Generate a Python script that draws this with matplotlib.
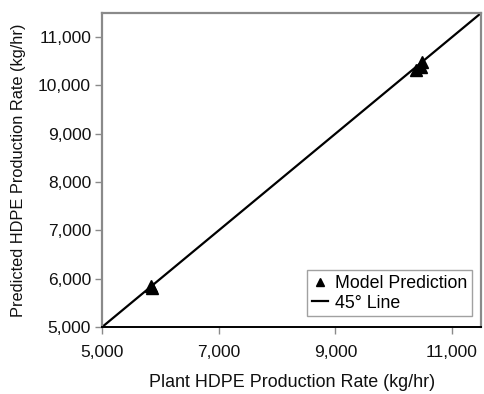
'''
Parity plot: model-predicted vs. plant HDPE production rate.
'''

import matplotlib
matplotlib.use('Agg')
import matplotlib.pyplot as plt
from matplotlib.ticker import FixedLocator, FuncFormatter, MultipleLocator

plt.rcParams['font.family'] = ['Liberation Sans', 'DejaVu Sans']

AXIS_MIN = 5000
AXIS_MAX = 11500

X_TICKS = [5000, 7000, 9000, 11000]

# plant measurements and model predictions, kg/hr
plant_rate = [5830, 5855, 10380, 10470, 10490]
predicted_rate = [5840, 5815, 10320, 10390, 10480]

# the 45 degree reference line
line_x = [AXIS_MIN, AXIS_MAX]
line_y = [AXIS_MIN, AXIS_MAX]

FIG_SIZE = [4.84, 3.94]
GREY = '#8a8a8a'


def thousands(value, pos):
    return '{:,.0f}'.format(value)


fig = plt.figure(figsize = FIG_SIZE, dpi = 100)
axes = fig.add_axes([0.211, 0.170, 0.783, 0.797])

axes.plot(plant_rate, predicted_rate, '^', color = 'black',
          markersize = 8, label = 'Model Prediction', zorder = 3)
axes.plot(line_x, line_y, '-', color = 'black', linewidth = 1.6,
          label = '45\u00b0 Line', zorder = 2)

axes.set_xlim(AXIS_MIN, AXIS_MAX)
axes.set_ylim(AXIS_MIN, AXIS_MAX)
axes.xaxis.set_major_locator(FixedLocator(X_TICKS))
axes.yaxis.set_major_locator(MultipleLocator(1000))
axes.xaxis.set_major_formatter(FuncFormatter(thousands))
axes.yaxis.set_major_formatter(FuncFormatter(thousands))

for name in ['left', 'top', 'right']:
    axes.spines[name].set_color(GREY)
    axes.spines[name].set_linewidth(1.6)
axes.spines['bottom'].set_color('black')
axes.spines['bottom'].set_linewidth(1.4)

axes.tick_params(axis = 'both', direction = 'out', length = 5, width = 1,
                 color = GREY, labelsize = 12.5, labelcolor = '#111111')
axes.tick_params(axis = 'x', pad = 8)
axes.tick_params(axis = 'y', pad = 3)

axes.set_xlabel('Plant HDPE Production Rate (kg/hr)', fontsize = 12.9,
                color = '#111111', labelpad = 10)
axes.set_ylabel('Predicted HDPE Production Rate (kg/hr)', fontsize = 11.8,
                color = '#111111', labelpad = 9)

legend = axes.legend(loc = 'lower right', bbox_to_anchor = (0.975, 0.035),
                     fontsize = 12.8, frameon = True, fancybox = False,
                     markerscale = 0.75, handlelength = 0.9, handletextpad = 0.4,
                     borderpad = 0.25, labelspacing = 0.15, borderaxespad = 0)
legend.get_frame().set_edgecolor(GREY)
legend.get_frame().set_linewidth(1.0)

fig.savefig('out.png', dpi = 100)
plt.close()
